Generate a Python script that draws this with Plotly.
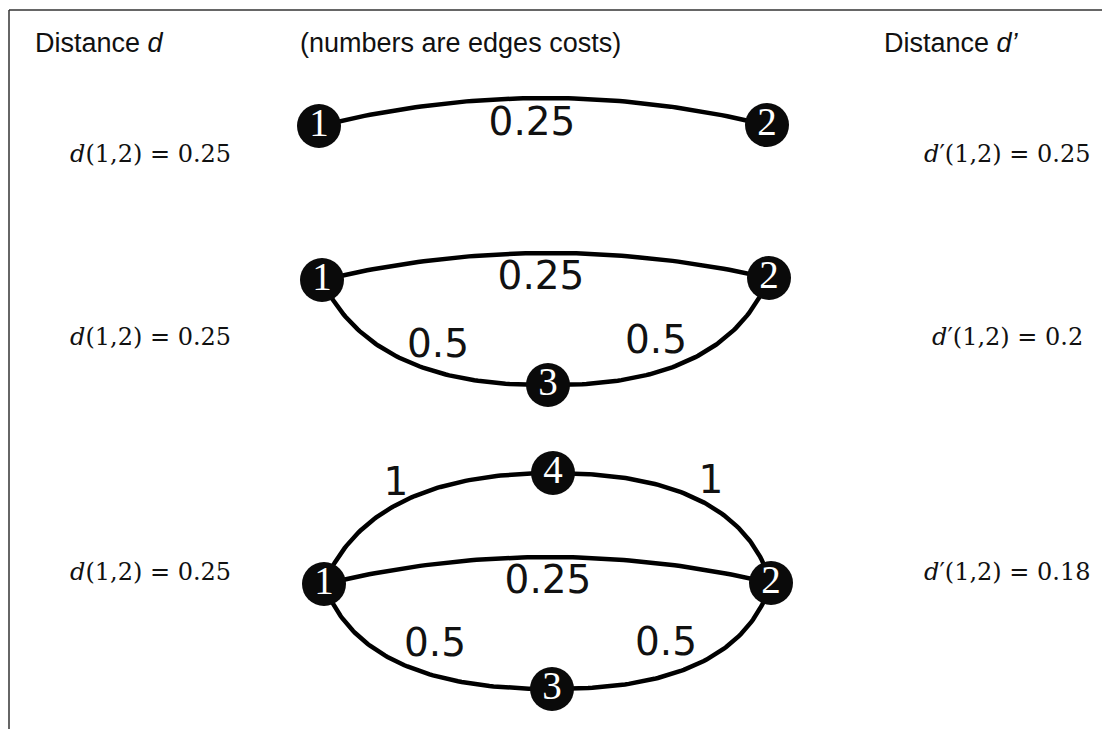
import numpy as np
import plotly.graph_objects as go

# ---- data ----
node_label = ["1", "2", "1", "2", "3", "1", "2", "4", "3"]
node_x = [319, 767, 322, 769, 548, 324, 771, 553, 552]
node_y = [126, 125, 280, 278, 385, 584, 583, 473, 689]

edge_src = [0, 2, 2, 4, 5, 5, 7, 5, 8]
edge_dst = [1, 3, 4, 3, 6, 7, 6, 8, 6]
edge_ctrl_x = [543, 545, 372, 724, 547, 370, 738, 362, 738]
edge_ctrl_y = [70.5, 227, 387, 387, 530.5, 473, 473, 690, 690]
edge_cost = ["0.25", "0.25", "0.5", "0.5", "0.25", "1", "1", "0.5", "0.5"]
edge_label_x = [532, 541, 438, 656, 548, 396, 711, 435, 666]
edge_label_y = [125, 279, 347, 343, 583, 485, 483, 646, 645]

row_y = [154, 337, 572]
d_values = ["0.25", "0.25", "0.25"]
dprime_values = ["0.25", "0.2", "0.18"]

headers = ["Distance <i>d</i>", "(numbers are edges costs)", "Distance <i>d’</i>"]
header_x = [33, 298, 882]

W, H = 1102, 729

fig = go.Figure()

# edges (quadratic Bezier curves)
t = np.linspace(0, 1, 80)
for s, d, cx, cy in zip(edge_src, edge_dst, edge_ctrl_x, edge_ctrl_y):
    x0, y0 = node_x[s], node_y[s]
    x2, y2 = node_x[d], node_y[d]
    bx = (1 - t) ** 2 * x0 + 2 * (1 - t) * t * cx + t ** 2 * x2
    by = (1 - t) ** 2 * y0 + 2 * (1 - t) * t * cy + t ** 2 * y2
    fig.add_trace(go.Scatter(x=bx, y=by, mode="lines",
                             line=dict(color="black", width=4.5),
                             hoverinfo="skip", showlegend=False))

# nodes
fig.add_trace(go.Scatter(
    x=node_x, y=node_y, mode="markers+text", text=node_label,
    textposition="middle center",
    textfont=dict(family="Liberation Serif, DejaVu Serif, serif", size=39, color="white"),
    marker=dict(size=44, color="#0a0a0a", line=dict(width=0)),
    hoverinfo="skip", showlegend=False))

# edge labels
fig.add_trace(go.Scatter(
    x=edge_label_x, y=edge_label_y, mode="text", text=edge_cost,
    textposition="middle center",
    textfont=dict(family="DejaVu Sans, Verdana, sans-serif", size=39, color="#111111"),
    hoverinfo="skip", showlegend=False))

annotations = []
for h, hx in zip(headers, header_x):
    annotations.append(dict(x=hx, y=43, xref="x", yref="y", text=h, showarrow=False,
                            xanchor="left", yanchor="middle",
                            font=dict(family="Liberation Sans, Arial, sans-serif", size=27, color="#111111")))

math_font = dict(family="DejaVu Serif, Liberation Serif, serif", size=24, color="#111111")
for y, dv, dpv in zip(row_y, d_values, dprime_values):
    annotations.append(dict(x=150, y=y, xref="x", yref="y",
                            text="<i>d</i>(1,2) = " + dv, showarrow=False,
                            xanchor="center", yanchor="middle", font=math_font))
    annotations.append(dict(x=1007, y=y, xref="x", yref="y",
                            text="<i>d</i>\u2032(1,2) = " + dpv, showarrow=False,
                            xanchor="center", yanchor="middle", font=math_font))

shapes = [
    dict(type="line", xref="x", yref="y", x0=9, y0=10, x1=W, y1=10,
         line=dict(color="#333333", width=1.5)),
    dict(type="line", xref="x", yref="y", x0=9, y0=10, x1=9, y1=H,
         line=dict(color="#333333", width=1.5)),
]

fig.update_layout(
    width=W, height=H,
    margin=dict(l=0, r=0, t=0, b=0),
    paper_bgcolor="white", plot_bgcolor="white",
    xaxis=dict(range=[0, W], visible=False, fixedrange=True),
    yaxis=dict(range=[H, 0], visible=False, fixedrange=True),
    annotations=annotations, shapes=shapes,
    showlegend=False,
)

fig.write_html("out.html", config={"displayModeBar": False},
               post_script="document.body.style.margin='0';document.body.style.overflow='hidden';")
